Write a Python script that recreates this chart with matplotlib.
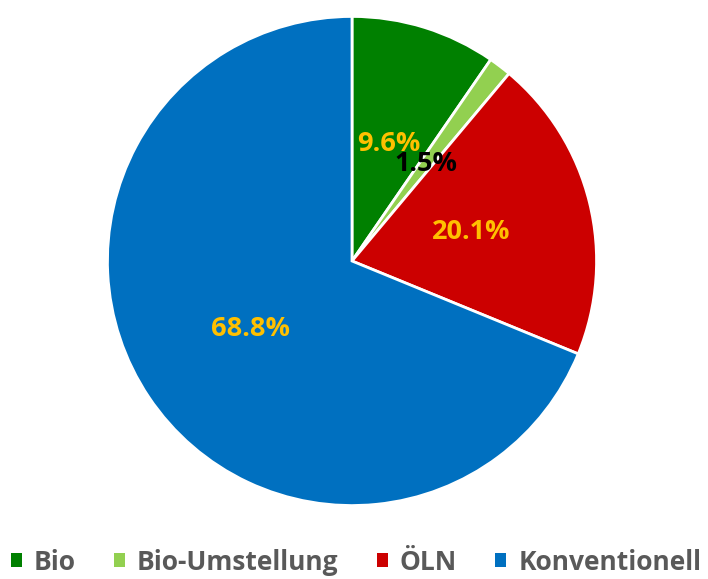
import matplotlib
matplotlib.use("Agg")
import matplotlib.pyplot as plt
from matplotlib.patches import Patch

# Anteile der Flächen
labels = ["Bio", "Bio-Umstellung", "ÖLN", "Konventionell"]
shares = [9.6, 1.5, 20.1, 68.8]
colors = ["#008000", "#92D050", "#CC0000", "#0070C0"]
pct_colors = ["#FFC000", "#000000", "#FFC000", "#FFC000"]

plt.rcParams["font.family"] = ["Open Sans", "DejaVu Sans"]

fig = plt.figure(figsize=(7.08, 5.79), dpi=100)
# center ~ (352, 261) px, radius ~ 246 px
ax = fig.add_axes([(352 - 247) / 708, (579 - 261 - 247) / 579, 494 / 708, 494 / 579])

wedges, texts, autotexts = ax.pie(
    shares, colors=colors, startangle=90, counterclock=False,
    autopct="%1.1f%%", pctdistance=0.5,
    wedgeprops=dict(edgecolor="white", linewidth=2),
    textprops=dict(fontsize=19.5, fontweight="bold"))

for t, c in zip(autotexts, pct_colors):
    t.set_color(c)

ax.set_xlim(-1.01, 1.01)
ax.set_ylim(-1.01, 1.01)
ax.set_aspect("equal")
ax.axis("off")

handles = [Patch(facecolor=c, edgecolor="none") for c in colors]
fig.legend(handles, labels, loc="center", bbox_to_anchor=(0.503, 1 - 562 / 579),
           ncol=4, frameon=False, handlelength=0.42, handleheight=0.42,
           handletextpad=0.45, columnspacing=1.45,
           prop=dict(size=19, weight="bold"), labelcolor="#595959")

fig.savefig("out.png", dpi=100)
